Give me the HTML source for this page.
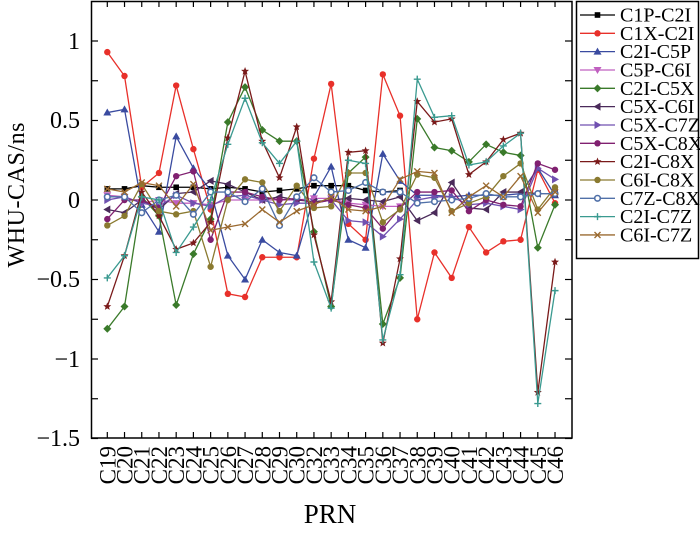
<!DOCTYPE html>
<html><head><meta charset="utf-8"><style>
html,body{margin:0;padding:0;background:#fff;}
svg{display:block;font-family:"Liberation Serif",serif;}
</style></head><body>
<svg id="s" width="700" height="536" viewBox="0 0 700 536" xmlns="http://www.w3.org/2000/svg">
<rect x="0" y="0" width="700" height="536" fill="#fff"/>
<g id="ticks" stroke="#000" stroke-width="1.2"></g>
<g id="series"></g>
<rect x="91.5" y="1.5" width="480.5" height="436.5" fill="none" stroke="#000" stroke-width="1.5"/>
<g font-size="24" text-anchor="end" fill="#000">
<text x="80" y="49">1</text>
<text x="80" y="128">0.5</text>
<text x="80" y="208">0</text>
<text x="80" y="287">−0.5</text>
<text x="80" y="367">−1</text>
<text x="80" y="446">−1.5</text>
</g>
<text transform="translate(24,195) rotate(-90)" font-size="24" text-anchor="middle" textLength="145">WHU-CAS/ns</text>
<g id="xl" font-size="23" text-anchor="end">
<text transform="translate(115.3,446) rotate(-90)">C19</text>
<text transform="translate(132.5,446) rotate(-90)">C20</text>
<text transform="translate(149.7,446) rotate(-90)">C21</text>
<text transform="translate(167.0,446) rotate(-90)">C22</text>
<text transform="translate(184.2,446) rotate(-90)">C23</text>
<text transform="translate(201.4,446) rotate(-90)">C24</text>
<text transform="translate(218.6,446) rotate(-90)">C25</text>
<text transform="translate(235.8,446) rotate(-90)">C26</text>
<text transform="translate(253.1,446) rotate(-90)">C27</text>
<text transform="translate(270.3,446) rotate(-90)">C28</text>
<text transform="translate(287.5,446) rotate(-90)">C29</text>
<text transform="translate(304.7,446) rotate(-90)">C30</text>
<text transform="translate(321.9,446) rotate(-90)">C32</text>
<text transform="translate(339.2,446) rotate(-90)">C33</text>
<text transform="translate(356.4,446) rotate(-90)">C34</text>
<text transform="translate(373.6,446) rotate(-90)">C35</text>
<text transform="translate(390.8,446) rotate(-90)">C36</text>
<text transform="translate(408.0,446) rotate(-90)">C37</text>
<text transform="translate(425.3,446) rotate(-90)">C38</text>
<text transform="translate(442.5,446) rotate(-90)">C39</text>
<text transform="translate(459.7,446) rotate(-90)">C40</text>
<text transform="translate(476.9,446) rotate(-90)">C41</text>
<text transform="translate(494.1,446) rotate(-90)">C42</text>
<text transform="translate(511.4,446) rotate(-90)">C43</text>
<text transform="translate(528.6,446) rotate(-90)">C44</text>
<text transform="translate(545.8,446) rotate(-90)">C45</text>
<text transform="translate(563.0,446) rotate(-90)">C46</text>
</g>
<text x="330" y="523" font-size="27" text-anchor="middle">PRN</text>
<rect x="576.5" y="1.5" width="122" height="257" fill="#fff" stroke="#000" stroke-width="1.5"/>
<g id="leg"></g>
<g font-size="20" fill="#000">
<text x="620" y="21.5">C1P-C2I</text>
<text x="620" y="39.8">C1X-C2I</text>
<text x="620" y="58.2">C2I-C5P</text>
<text x="620" y="76.5">C5P-C6I</text>
<text x="620" y="94.8">C2I-C5X</text>
<text x="620" y="113.2">C5X-C6I</text>
<text x="620" y="131.5">C5X-C7Z</text>
<text x="620" y="149.8">C5X-C8X</text>
<text x="620" y="168.2">C2I-C8X</text>
<text x="620" y="186.5">C6I-C8X</text>
<text x="620" y="204.8">C7Z-C8X</text>
<text x="620" y="223.2">C2I-C7Z</text>
<text x="620" y="241.5">C6I-C7Z</text>
</g>
</svg>
<script>
var NS="http://www.w3.org/2000/svg";
function X(i){return 107.3+17.22*i;}
function Y(v){return 200-159*v;}
function el(t,a,p){var e=document.createElementNS(NS,t);for(var k in a)e.setAttribute(k,a[k]);p.appendChild(e);return e;}
var tk=document.getElementById('ticks');
for(var i=0;i<27;i++){var x=X(i);el('line',{x1:x,y1:438,x2:x,y2:432},tk);el('line',{x1:x,y1:1,x2:x,y2:7},tk);}
for(var v=-1.5;v<=1.2;v+=0.25){var y=Y(v);el('line',{x1:91,y1:y,x2:98,y2:y},tk);el('line',{x1:572,y1:y,x2:565,y2:y},tk);}
var S=[
["#000","sq",[0.07,0.07,0.09,0.08,0.08,0.08,0.07,0.08,0.07,0.05,0.06,0.07,0.09,0.09,0.09,0.06,0.05,0.06]],
["#e8302a","ci",[0.93,0.78,0.08,0.17,0.72,0.32,-0.06,-0.59,-0.61,-0.36,-0.36,-0.36,0.26,0.73,-0.15,-0.25,0.79,0.53,-0.75,-0.33,-0.49,-0.17,-0.33,-0.26,-0.25,0.19,-0.02]],
["#3a4ba0","tu",[0.55,0.57,-0.03,-0.2,0.40,0.2,0.06,-0.35,-0.5,-0.25,-0.33,-0.35,0.02,0.21,-0.25,-0.3,0.29,0.12,0.03,0.03,0.02,0.03,0.03,0.03,0.04,0.2,0.03]],
["#c060c0","td",[0.03,0.02,-0.02,0.0,-0.02,-0.02,-0.03,0.0,0.0,0.0,0.0,0.0,0.01,0.01,-0.02,-0.03,-0.04,-0.04]],
["#3a7a2a","di",[-0.81,-0.67,0.02,-0.1,-0.66,-0.34,-0.12,0.49,0.71,0.44,0.37,0.37,-0.2,-0.67,0.17,0.27,-0.78,-0.49,0.51,0.33,0.31,0.24,0.35,0.3,0.28,-0.3,-0.03]],
["#4a2a5a","tl",[-0.06,-0.08,0.0,-0.06,0.04,0.05,0.12,0.1,0.05,0.0,0.02,0.0,-0.01,0.0,0.01,0.0,-0.01,0.02,-0.13,-0.08,0.11,-0.05,-0.06,0.05,0.05,0.04,0.04]],
["#7050b0","tr",[0.0,0.02,-0.02,-0.04,0.03,-0.02,-0.04,0.02,0.03,0.0,-0.03,-0.02,-0.02,0.0,-0.13,-0.14,-0.23,-0.12,0.0,0.02,0.02,-0.03,-0.02,-0.04,-0.06,0.2,0.13]],
["#802070","ci",[-0.12,0.0,0.0,-0.05,0.15,0.18,-0.25,0.05,0.05,0.02,0.0,0.01,-0.02,0.0,-0.03,-0.05,-0.18,-0.05,0.05,0.05,0.06,-0.07,0.0,-0.03,-0.04,0.23,0.19]],
["#7a1a1a","st",[-0.67,-0.35,0.05,-0.1,-0.31,-0.27,-0.14,0.39,0.81,0.37,0.14,0.46,-0.22,-0.64,0.3,0.31,-0.9,-0.37,0.62,0.49,0.51,0.16,0.24,0.38,0.42,-1.21,-0.39]],
["#8a7a30","ci",[-0.16,-0.1,0.1,-0.07,-0.09,-0.07,-0.42,0.0,0.13,0.11,-0.07,0.09,-0.05,-0.04,0.17,0.17,-0.14,-0.06,0.16,0.14,-0.07,-0.02,0.02,0.15,0.23,-0.06,0.08]],
["#5070a8","oc",[0.02,0.02,-0.08,0.0,0.03,-0.09,0.05,0.05,-0.01,0.07,-0.16,0.02,0.14,0.05,0.06,0.11,0.05,0.05,-0.02,-0.01,0.0,0.01,0.04,0.02,0.02,0.04,0.04]],
["#3a9a90","pl",[-0.49,-0.35,0.02,0.0,-0.33,-0.17,0.0,0.35,0.64,0.36,0.23,0.37,-0.39,-0.68,0.25,0.23,-0.88,-0.47,0.76,0.52,0.53,0.22,0.24,0.34,0.42,-1.28,-0.57]],
["#9a6a30","xx",[0.07,0.05,0.11,0.09,-0.04,0.1,-0.19,-0.17,-0.15,-0.06,-0.14,-0.07,-0.03,0.02,-0.06,-0.07,-0.04,0.13,0.18,0.17,-0.08,0.02,0.09,0.02,0.15,-0.08,0.05]]
];
function mk(t,x,y,c,p){var r=3.2;
if(t=="sq")el('rect',{x:x-2.8,y:y-2.8,width:5.6,height:5.6,fill:c},p);
else if(t=="ci")el('circle',{cx:x,cy:y,r:r,fill:c},p);
else if(t=="oc")el('circle',{cx:x,cy:y,r:2.8,fill:"#fff",stroke:c,"stroke-width":1.6},p);
else if(t=="tu")el('polygon',{points:(x)+","+(y-4)+" "+(x-4)+","+(y+3)+" "+(x+4)+","+(y+3),fill:c},p);
else if(t=="td")el('polygon',{points:(x)+","+(y+4)+" "+(x-4)+","+(y-3)+" "+(x+4)+","+(y-3),fill:c},p);
else if(t=="tl")el('polygon',{points:(x-4)+","+y+" "+(x+3)+","+(y-4)+" "+(x+3)+","+(y+4),fill:c},p);
else if(t=="tr")el('polygon',{points:(x+4)+","+y+" "+(x-3)+","+(y-4)+" "+(x-3)+","+(y+4),fill:c},p);
else if(t=="di")el('polygon',{points:x+","+(y-4)+" "+(x+4)+","+y+" "+x+","+(y+4)+" "+(x-4)+","+y,fill:c},p);
else if(t=="st"){var s="";for(var k=0;k<10;k++){var a=-Math.PI/2+k*Math.PI/5,rr=k%2?1.8:4.2;s+=(x+rr*Math.cos(a))+","+(y+rr*Math.sin(a))+" ";}el('polygon',{points:s,fill:c},p);}
else if(t=="pl"){el('path',{d:"M"+(x-3.5)+" "+y+"h7M"+x+" "+(y-3.5)+"v7",stroke:c,"stroke-width":1.4},p);}
else if(t=="xx"){el('path',{d:"M"+(x-3)+" "+(y-3)+"l6 6M"+(x+3)+" "+(y-3)+"l-6 6",stroke:c,"stroke-width":1.4},p);}
}
var g=document.getElementById('series'),lg=document.getElementById('leg');
S.forEach(function(s,j){var pts=s[2].map(function(v,i){return X(i)+","+Y(v);}).join(" ");
el('polyline',{points:pts,fill:"none",stroke:s[0],"stroke-width":1.3},g);
s[2].forEach(function(v,i){mk(s[1],X(i),Y(v),s[0],g);});
var ly=15+18.33*j;el('line',{x1:580,y1:ly,x2:615,y2:ly,stroke:s[0],"stroke-width":1.3},lg);mk(s[1],597.5,ly,s[0],lg);});
</script>
</body></html>
